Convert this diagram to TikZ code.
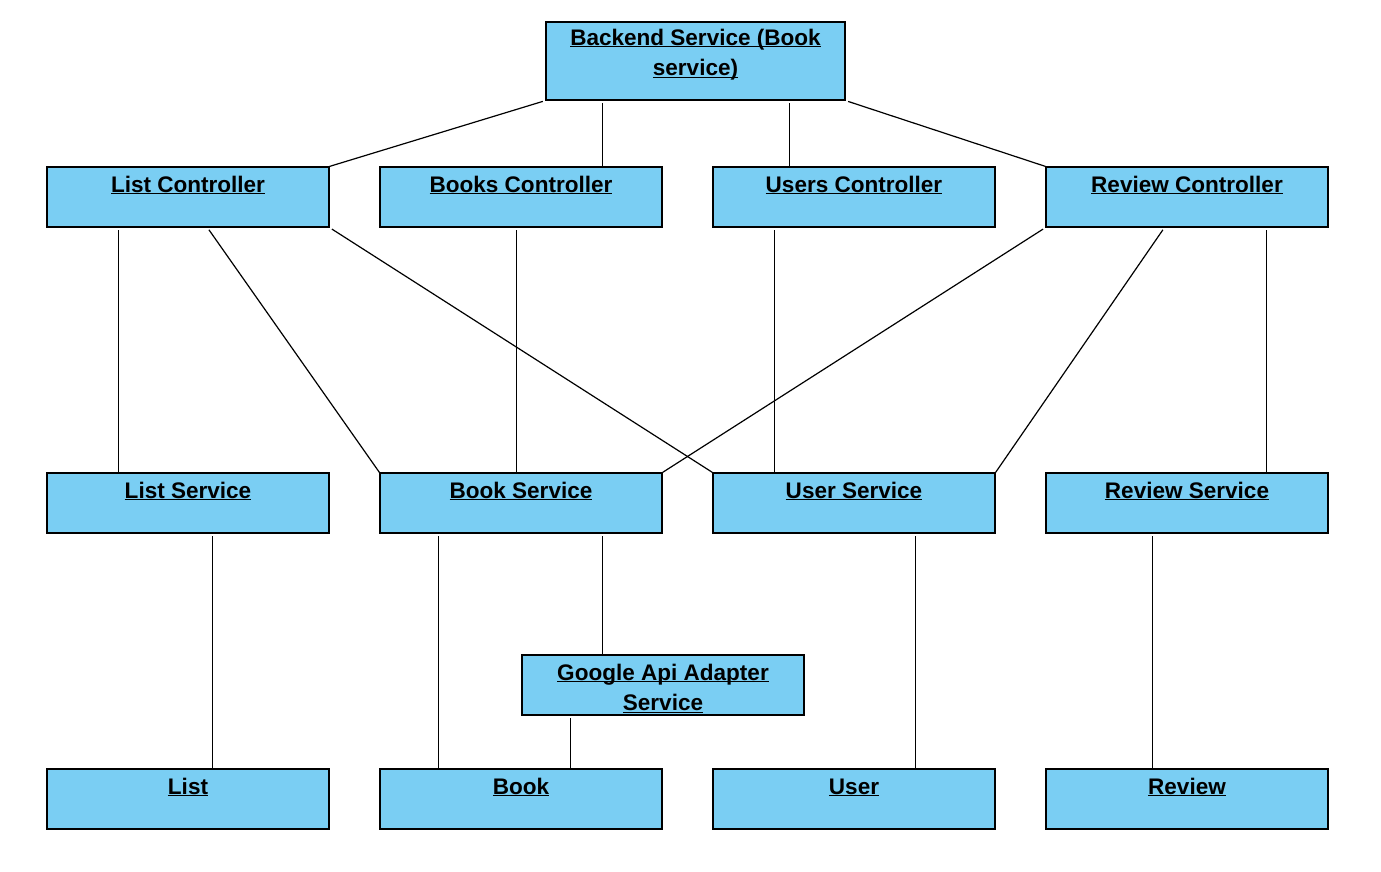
\documentclass[tikz,border=0pt]{standalone}
\usepackage{fontspec}
\setmainfont{Liberation Sans}
\definecolor{boxblue}{RGB}{122,206,243}
\newcommand{\ulin}[1]{\setbox0\hbox{#1}\rlap{\rule[-1.8pt]{\wd0}{1.1pt}}\rule{0pt}{0.8em}\box0}

\begin{document}
\begin{tikzpicture}[x=0.75pt, y=-0.75pt, line width=0.9pt,
    box/.style={draw, fill=boxblue, minimum width=211.5pt, minimum height=45pt, inner sep=0pt},
    link/.style={shorten <=2pt},
    lbl/.style={anchor=north, yshift=-5.25pt, inner sep=0pt, align=center, font=\bfseries\fontsize{16.9}{23}\selectfont}]
        \useasboundingbox (0,0) rectangle (1381,871);
        \node[box, minimum width=224.25pt, minimum height=58.5pt,
            label={[lbl, yshift=1.5pt]north:\ulin{Backend Service (Book}\\\ulin{service)}}] (backend) at (695.5,61) {};
        \foreach \n/\x/\t in {listc/188/List Controller, booksc/521/Books Controller, usersc/854/Users Controller, reviewc/1187/Review Controller}
            \node[box, label={[lbl]north:\ulin{\t}}] (\n) at (\x,197) {};
        \foreach \n/\x/\t in {lists/188/List Service, books/521/Book Service, users/854/User Service, reviews/1187/Review Service}
            \node[box, label={[lbl]north:\ulin{\t}}] (\n) at (\x,503) {};
        \node[box, label={[lbl]north:\ulin{Google Api Adapter}\\\ulin{Service}}] (google) at (663,685) {};
        \foreach \n/\x/\t in {list/188/List, book/521/Book, user/854/User, review/1187/Review}
            \node[box, label={[lbl]north:\ulin{\t}}] (\n) at (\x,799) {};
        \draw[link] (backend.south west) -- (listc.north east);
        \draw[link] (backend.south east) -- (reviewc.north west);
        \draw[link] (listc.south west) ++(161,0) -- (books.north west);
        \draw[link] (listc.south east) -- (users.north west);
        \draw[link] (reviewc.south west) -- (books.north east);
        \draw[link] (reviewc.south west) ++(119,0) -- (users.north east);
        \foreach \a/\b/\d in {backend/booksc/57, backend/usersc/244, listc/lists/72, booksc/books/137, usersc/users/62, reviewc/reviews/221, lists/list/166, books/book/59, books/google/223, google/book/49, users/user/203, reviews/review/107}
            \draw[link] (\a.south west) ++(\d,0) coordinate (top) -- (top |- \b.north);
\end{tikzpicture}
\end{document}
